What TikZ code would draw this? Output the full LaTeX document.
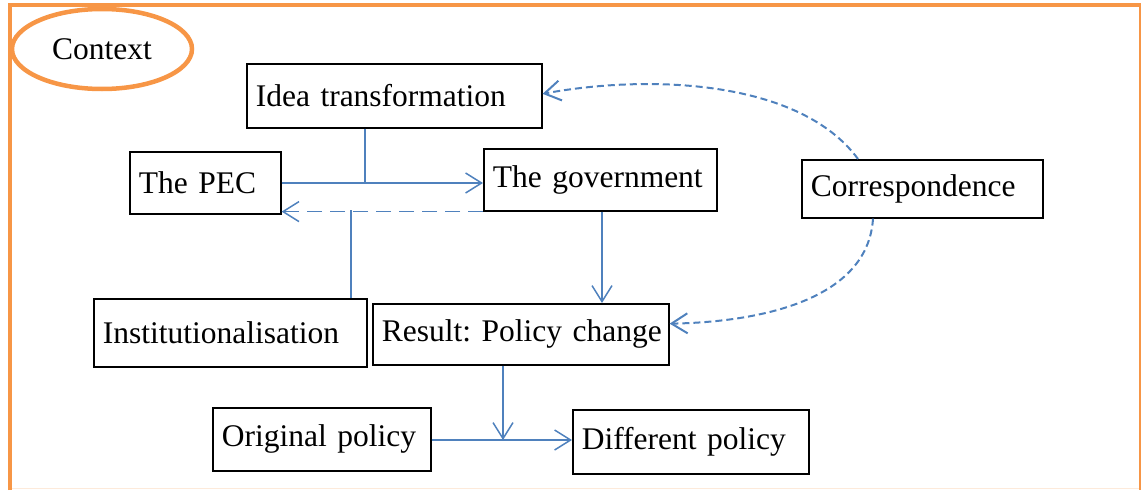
\documentclass[tikz,border=0pt]{standalone}
\usepackage{fontspec}
\setmainfont{Liberation Serif}
\frenchspacing
\usetikzlibrary{arrows.meta,shapes.geometric,calc}
\definecolor{framec}{HTML}{F79646}
\definecolor{linec}{HTML}{4F81BD}
\begin{document}
\begin{tikzpicture}[x=1pt,y=-1pt,
  box/.style={draw=black,line width=1.6pt,anchor=north west,inner xsep=9pt,inner ysep=0pt,align=left,font=\fontsize{31.5}{36}\selectfont},
  conn/.style={draw=linec,line width=1.5pt},
  tip/.style={-{Straight Barb[length=16pt,width=20pt]}},
  longdash/.style={dash pattern=on 15pt off 8pt},
  shortdash/.style={line width=2pt,dash pattern=on 7pt off 4pt}]
\useasboundingbox (0,0) rectangle (1143,490);
% frame
\draw[framec!20,line width=1pt] (10,488) -- (1140,488);
\draw[framec,line width=1.5pt] (1140,5) -- (1140,490);
\draw[framec,line width=4.5pt] (10,490) -- (10,5) -- (1141,5);
\node[draw=framec,line width=4.5pt,ellipse,minimum width=180pt,minimum height=80pt,inner sep=0pt,font=\fontsize{31.5}{36}\selectfont] (ctx) at (102,49) {Context};
% boxes
\node[box,text width=277pt,minimum height=64pt] (idea) at (246,63) {\mbox{Idea transformation}};
\node[box,text width=133pt,minimum height=62pt] (pec) at (129,151) {\mbox{The PEC}};
\node[box,text width=215pt,minimum height=62pt] (gov) at (483,148) {\mbox{The government}};
\node[box,text width=223pt,minimum height=58pt] (corr) at (801,159) {\mbox{Correspondence}};
\node[box,text width=255pt,minimum height=68pt] (inst) at (93,298) {\mbox{Institutionalisation}};
\node[box,text width=278pt,minimum height=61pt] (res) at (372,303) {\mbox{Result: Policy change}};
\node[box,text width=200pt,minimum height=63pt] (orig) at (212,407) {\mbox{Original policy}};
\node[box,text width=218pt,minimum height=64pt] (diff) at (572,409) {\mbox{Different policy}};
% junction coordinates
\coordinate (j1) at (365,183);
\coordinate (j2) at (351,210);
\coordinate (g1) at (602,0);
\coordinate (j3) at (503,440);
\coordinate (c1) at (858,0);
\coordinate (c2) at (873,0);
% connectors
\draw[conn] (idea.south -| j1) -- (j1);
\draw[conn,tip] (pec.east |- j1) -- (gov.west |- j1);
\draw[conn,longdash,tip] (gov.south west) -- (pec.east |- gov.south west);
\draw[conn] (inst.north -| j2) -- (j2);
\draw[conn,tip] (gov.south -| g1) -- (res.north -| g1);
\draw[conn,tip] (res.south -| j3) -- (j3);
\draw[conn,tip] (orig.east |- j3) -- (diff.west |- j3);
\draw[conn,shortdash,tip] (corr.north -| c1) .. controls (800,80) and (650,74) .. ($(idea.north east)!0.47!(idea.south east)$);
\draw[conn,shortdash,tip] (corr.south -| c2) .. controls (868,300) and (760,322) .. ($(res.north east)!0.33!(res.south east)$);
\end{tikzpicture}
\end{document}
